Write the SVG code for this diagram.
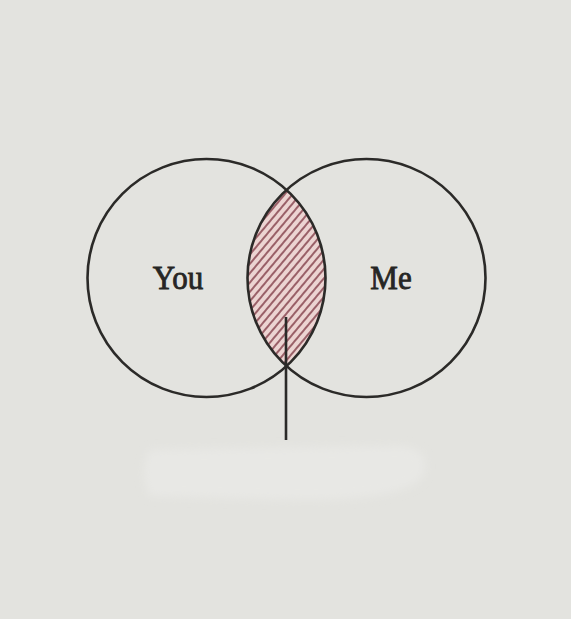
<svg xmlns="http://www.w3.org/2000/svg" width="571" height="619" viewBox="0 0 571 619">
  <style>
    .ring { fill: none; stroke: #2b2a28; stroke-width: 2.6; }
    .label { font-family: "Liberation Serif", "Times New Roman", serif; font-size: 31px; fill: #262624; stroke: #262624; stroke-width: 0.8; text-anchor: middle; }
    .conn { stroke: #2b2a28; stroke-width: 2.6; fill: none; }
  </style>
  <defs>
    <pattern id="hatch" patternUnits="userSpaceOnUse" width="6" height="6" patternTransform="rotate(-50)">
      <rect width="6" height="6" fill="#ecd4d2"/>
      <rect y="0" width="6" height="2" fill="#9a6068"/>
    </pattern>
    <filter id="soft" x="-20%" y="-50%" width="140%" height="200%">
      <feGaussianBlur stdDeviation="4"/>
    </filter>
  </defs>
  <rect width="571" height="619" fill="#e3e3df"/>
  <path d="M150 450 L400 446 Q428 448 425 470 Q420 500 300 500 L150 496 Q138 472 150 450 Z" fill="#e8e8e5" filter="url(#soft)"/>

  <g id="intersection">
    <path d="M286.5 190 A119 119 0 0 1 286.5 366 A119 119 0 0 1 286.5 190 Z" fill="url(#hatch)"/>
  </g>
  <g id="you">
    <circle class="ring" cx="206.5" cy="278" r="119"/>
    <text class="label" x="178" y="289" transform="translate(178 289) scale(1 1.08) translate(-178 -289)">You</text>
  </g>
  <g id="me">
    <circle class="ring" cx="366.5" cy="278" r="119"/>
    <text class="label" x="391" y="289" transform="translate(391 289) scale(1 1.08) translate(-391 -289)">Me</text>
  </g>
  <g id="connectors">
    <line class="conn" x1="286" y1="317" x2="286" y2="440"/>
  </g>
</svg>
